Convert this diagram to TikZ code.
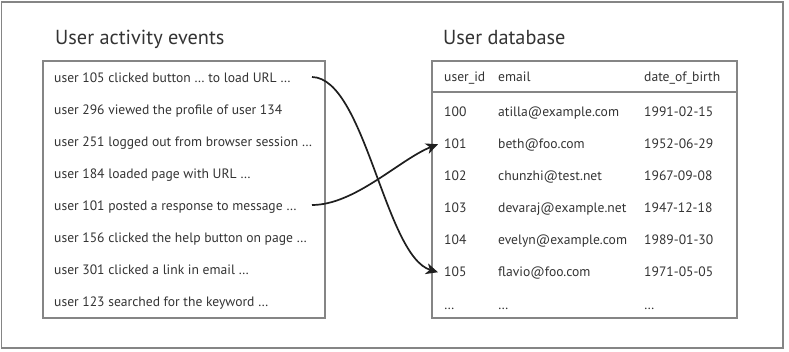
\documentclass[tikz,border=0pt]{standalone}
\usepackage{fontspec}
\setmainfont{PT Sans}
\usepackage{xcolor}
\usetikzlibrary{arrows.meta}

\definecolor{inkgray}{HTML}{333333}
\definecolor{linegray}{HTML}{858585}

\begin{document}
\begin{tikzpicture}[x=1pt,y=-1pt,
    boxline/.style={draw=linegray, line width=1.1pt},
    heading/.style={anchor=base west, inner sep=0pt, text=inkgray,
        font=\fontsize{20.3}{24}\selectfont},
    rowtext/.style={anchor=base west, inner sep=0pt, text=inkgray,
        font=\fontsize{13.6}{16}\selectfont},
    link/.style={-{Stealth[length=12pt,width=11pt,inset=3.5pt]},
        line width=1.7pt, draw=black!88}]

\useasboundingbox (0,0) rectangle (789,352);

% --- CORNICE ESTERNA ---
\draw[boxline] (1.5,2) rectangle (783,348);

% --- EVENTI (a sinistra) ---
\node[heading] (evtitle) at (55,45) {User activity events};
\draw[boxline] (43,61) rectangle (325,318);
\foreach \i/\t in {1/user 105 clicked button … to load URL …,
    2/user 296 viewed the profile of user 134,
    3/user 251 logged out from browser session …,
    4/user 184 loaded page with URL …,
    5/user 101 posted a response to message …,
    6/user 156 clicked the help button on page …,
    7/user 301 clicked a link in email …,
    8/user 123 searched for the keyword …} {
    \node[rowtext] (ev\i) at (54,51+32*\i) {\t};
}

% --- DATABASE (a destra) ---
\node[heading] (dbtitle) at (443,45) {User database};
\draw[boxline] (432,61) rectangle (737,318);
\draw[boxline] (432,92) -- (737,92);
\node[rowtext] (hid) at (444,82) {user\_id};
\node[rowtext] (hmail) at (498,82) {email};
\node[rowtext] (hdob) at (644,82) {date\_of\_birth};
\foreach \i/\id/\mail/\dob in {1/100/atilla@example.com/1991-02-15,
    2/101/beth@foo.com/1952-06-29,
    3/102/chunzhi@test.net/1967-09-08,
    4/103/devaraj@example.net/1947-12-18,
    5/104/evelyn@example.com/1989-01-30,
    6/105/flavio@foo.com/1971-05-05} {
    \node[rowtext] (u\id) at (444,85+32*\i) {\id};
    \node[rowtext] at (498,85+32*\i) {\mail};
    \node[rowtext] at (644,85+32*\i) {\dob};
}
\foreach \x/\n in {444/a,498/b,644/c}
    \node[rowtext] (more\n) at (\x,309) {…};

% --- FRECCE ---
\coordinate (s1) at (312,77);
\coordinate (s5) at (312,205);
\draw[link] (s1) .. controls +(53,1) and +(-53,-16) .. ([xshift=-6pt]u105.west);
\draw[link] (s5) .. controls +(43,0) and +(-38,15) .. ([xshift=-6pt]u101.west);

\end{tikzpicture}
\end{document}
